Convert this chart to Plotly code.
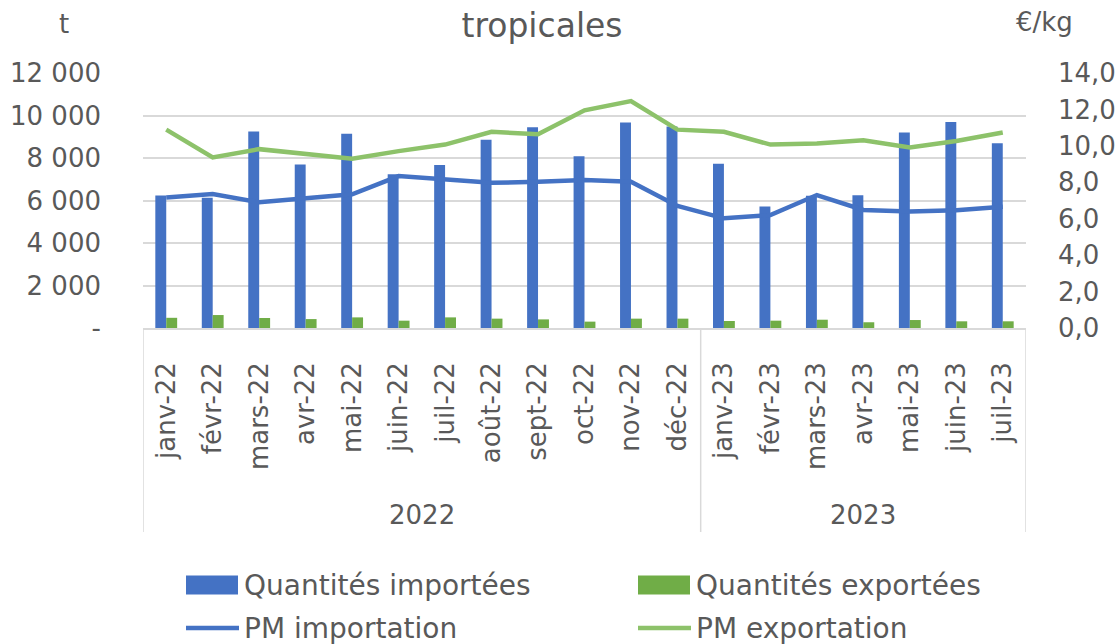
import plotly.graph_objects as go

months_2022 = ["janv-22", "févr-22", "mars-22", "avr-22", "mai-22", "juin-22", "juil-22",
               "août-22", "sept-22", "oct-22", "nov-22", "déc-22"]
months_2023 = ["janv-23", "févr-23", "mars-23", "avr-23", "mai-23", "juin-23", "juil-23"]
years = ["2022", "2023"]
months = months_2022 + months_2023

qty_imported = [6230, 6130, 9250, 7700, 9140, 7230, 7670, 8860, 9450, 8080, 9670, 9480,
                7730, 5720, 6220, 6250, 9200, 9700, 8700]
qty_exported = [480, 610, 470, 420, 500, 345, 500, 440, 405, 300, 440, 440,
                330, 345, 390, 270, 375, 315, 315]
pm_import = [7.17, 7.35, 6.90, 7.15, 7.34, 8.34, 8.16, 7.97, 8.03, 8.12, 8.03, 6.70,
             6.02, 6.20, 7.30, 6.48, 6.39, 6.46, 6.66]
pm_export = [10.89, 9.36, 9.82, 9.58, 9.29, 9.71, 10.07, 10.77, 10.64, 11.95, 12.46, 10.89,
             10.77, 10.07, 10.13, 10.31, 9.91, 10.27, 10.73]

left_ticks = [0, 2000, 4000, 6000, 8000, 10000, 12000]
left_labels = ["-", "2 000", "4 000", "6 000", "8 000", "10 000", "12 000"]
right_ticks = [0, 2, 4, 6, 8, 10, 12, 14]
right_labels = ["0,0", "2,0", "4,0", "6,0", "8,0", "10,0", "12,0", "14,0"]

BLUE = "#4472C4"
GREEN = "#70AD47"
LGREEN = "#8DC26A"
TXT = "#595959"
GRID = "#D9D9D9"
FONT = "DejaVu Sans"
FS = 26
LEG_FS = 28

# plot area in pixels
L, R, T, B = 143, 1026, 73, 328
PW, PH = R - L, B - T


def px(x):
    return (x - L) / PW


def py(y):
    return (B - y) / PH


fig = go.Figure()
bar_imp = go.Bar(x=months, y=qty_imported, name="Quantités importées",
                 marker=dict(color=BLUE, line=dict(width=0)), yaxis="y", showlegend=False)
bar_exp = go.Bar(x=months, y=qty_exported, name="Quantités exportées",
                 marker=dict(color=GREEN, line=dict(width=0)), yaxis="y", showlegend=False)
line_imp = go.Scatter(x=months, y=pm_import, name="PM importation", mode="lines",
                      line=dict(color=BLUE, width=4.5), yaxis="y2", showlegend=False)
line_exp = go.Scatter(x=months, y=pm_export, name="PM exportation", mode="lines",
                      line=dict(color=LGREEN, width=4.5), yaxis="y2", showlegend=False)
for tr in (bar_imp, bar_exp, line_imp, line_exp):
    fig.add_trace(tr)

# category group separators and year labels
n22 = len(months_2022)
n = len(months)
for xv in [-0.5, n22 - 0.5, n - 0.5]:
    fig.add_shape(type="line", xref="x", yref="paper", x0=xv, x1=xv, y0=0, y1=py(532),
                  line=dict(color=GRID, width=1.5))
fig.add_annotation(x=(n22 - 1) / 2, y=py(515), xref="x", yref="paper", text=years[0],
                   showarrow=False, font=dict(size=FS, color=TXT, family=FONT), yanchor="middle")
fig.add_annotation(x=n22 + (len(months_2023) - 1) / 2, y=py(515), xref="x", yref="paper",
                   text=years[1], showarrow=False, font=dict(size=FS, color=TXT, family=FONT),
                   yanchor="middle")

# axis unit labels
fig.add_annotation(x=px(57), y=py(24), xref="paper", yref="paper", text="t", showarrow=False,
                   font=dict(size=FS, color=TXT, family=FONT), yanchor="middle")
fig.add_annotation(x=px(1075), y=py(22), xref="paper", yref="paper", text="€/kg",
                   showarrow=False, font=dict(size=FS, color=TXT, family=FONT), yanchor="middle")

# legend (2 x 2 grid, Excel-style swatches)
legend_items = [
    (bar_imp, "rect", 186, 585),
    (bar_exp, "rect", 638, 585),
    (line_imp, "line", 186, 628),
    (line_exp, "line", 638, 628),
]
for tr, kind, x0, yc in legend_items:
    if kind == "rect":
        fig.add_shape(type="rect", xref="paper", yref="paper",
                      x0=px(x0), x1=px(x0 + 52), y0=py(yc - 9.5), y1=py(yc + 9.5),
                      fillcolor=tr.marker.color, line=dict(width=0))
    else:
        fig.add_shape(type="line", xref="paper", yref="paper",
                      x0=px(x0), x1=px(x0 + 53), y0=py(yc), y1=py(yc),
                      line=dict(color=tr.line.color, width=4.7))
    fig.add_annotation(x=px(x0 + 56), y=py(yc), xref="paper", yref="paper", text=tr.name,
                       showarrow=False, xanchor="left", yanchor="middle",
                       font=dict(size=LEG_FS, color=TXT, family=FONT))

fig.update_layout(
    width=1119, height=644,
    margin=dict(l=L, r=1119 - R, t=T, b=644 - B, autoexpand=False),
    paper_bgcolor="white", plot_bgcolor="white",
    font=dict(family=FONT, color=TXT, size=FS),
    title=dict(text="tropicales", x=542 / 1119, xanchor="center", y=1 - 25 / 644,
               yanchor="middle", font=dict(size=33, color=TXT, family=FONT)),
    barmode="group", bargap=0.53, bargroupgap=0,
    showlegend=False,
    xaxis=dict(type="category", tickangle=-90, showgrid=False, showline=True,
               linecolor=GRID, linewidth=1.5, ticks="", tickfont=dict(size=FS, color=TXT),
               ticklabelstandoff=22, range=[-0.5, n - 0.5], automargin=False),
    yaxis=dict(range=[0, 12000], tickvals=left_ticks, ticktext=left_labels,
               showgrid=True, gridcolor=GRID, gridwidth=1.5, zeroline=False,
               showline=False, ticks="", tickfont=dict(size=FS, color=TXT),
               ticklabelstandoff=41, automargin=False),
    yaxis2=dict(range=[0, 14], tickvals=right_ticks, ticktext=right_labels,
                overlaying="y", side="right", showgrid=False, zeroline=False,
                showline=False, ticks="", tickfont=dict(size=FS, color=TXT),
                ticklabelstandoff=31, automargin=False),
)

fig.write_html("out.html", config={"displayModeBar": False},
               post_script="document.body.style.margin='0';document.body.style.overflow='hidden';")
